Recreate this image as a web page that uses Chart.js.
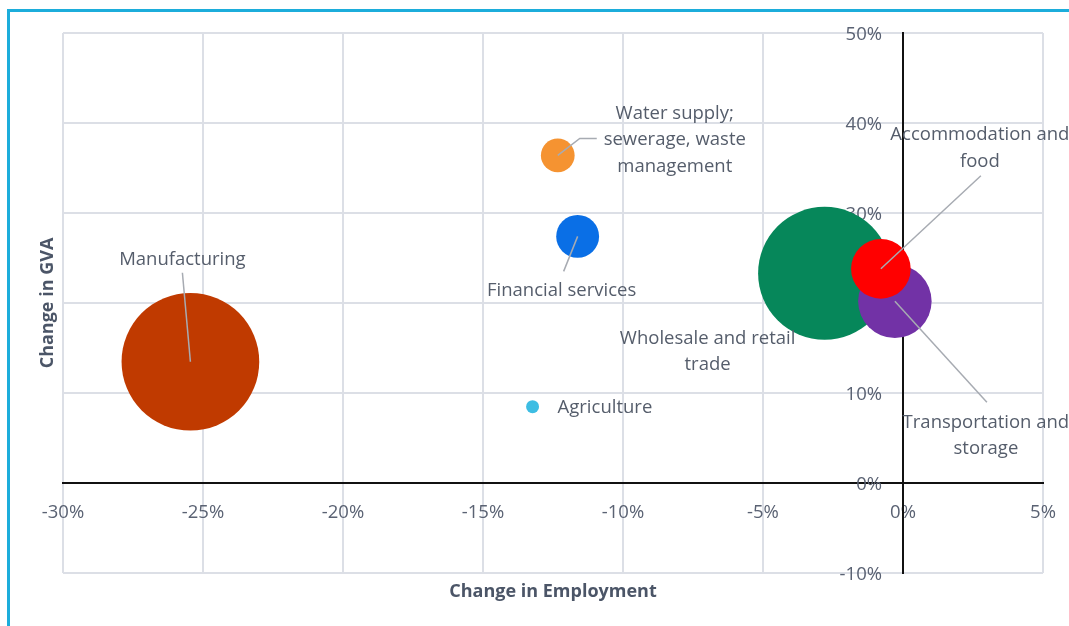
<!DOCTYPE html>
<html><head><meta charset="utf-8">
<script src="https://cdn.jsdelivr.net/npm/chart.js@4.4.0/dist/chart.umd.min.js"></script>
<style>
html,body{margin:0;padding:0;background:#fff;overflow:hidden;}
#wrap{position:relative;width:1069px;height:626px;overflow:hidden;}
#frame{position:absolute;left:7px;top:9px;width:1100px;height:700px;border-left:3px solid #1caddb;border-top:3px solid #1caddb;pointer-events:none;}
canvas{position:absolute;left:0;top:0;}
</style></head><body>
<div id="wrap"><canvas id="c" width="1069" height="626"></canvas><div id="frame"></div></div>
<script>
// ---- data ----
const sectors = ["Manufacturing", "Water supply; sewerage, waste management", "Financial services", "Agriculture", "Wholesale and retail trade", "Transportation and storage", "Accommodation and food"];
const employmentChange = [-25.45, -12.33, -11.62, -13.23, -2.80, -0.29, -0.79];   // % change in employment (x)
const gvaChange        = [13.47, 36.4, 27.4, 8.48, 23.3, 20.2, 23.8];            // % change in GVA (y)
const bubbleSize       = [47.4, 2.85, 4.6, 0.42, 44.2, 13.5, 8.9];               // relative bubble size (area)
const xTicks = [-30, -25, -20, -15, -10, -5, 0, 5];
const yTicks = [-10, 0, 10, 20, 30, 40, 50];

// ---- styles ----
const colors = ["#c03a00", "#f59331", "#0a6fe6", "#3dbde3", "#06875a", "#7232a6", "#ff0000"];
const radiusScale = 10;
const tickColor = "#5a6273";
const titleColor = "#4b5567";
const labelColor = "#555d6b";
const FONT = '"Open Sans", "Noto Sans", sans-serif';

// label placement relative to bubble centre (pixels)
const labelLayout = [
  {lines: ["Manufacturing"], dx: -8, dy: -104, leader: [[-8, -89]]},
  {lines: ["Water supply;", "sewerage, waste", "management"], dx: 117, dy: -17, leader: [[22, -17], [39, -17]]},
  {lines: ["Financial services"], dx: -16, dy: 53, leader: [[-14, 35]]},
  {lines: ["Agriculture"], dx: 25, dy: 0, align: "left"},
  {lines: ["Wholesale and retail", "trade"], dx: -117, dy: 77},
  {lines: ["Transportation and", "storage"], dx: 91, dy: 133, leader: [[92, 101]]},
  {lines: ["Accommodation and", "food"], dx: 99, dy: -122, leader: [[100, -93]]}
];

const points = employmentChange.map((x, i) => ({x: x, y: gvaChange[i], r: Math.sqrt(bubbleSize[i]) * radiusScale}));

// y tick labels next to the crossing axis (drawn under the bubbles)
const yLabelPlugin = {
  id: 'yLabels',
  beforeDatasetsDraw(chart) {
    const ctx = chart.ctx;
    const xs = chart.scales.x, ys = chart.scales.y;
    const ax = xs.getPixelForValue(0);
    ctx.save();
    ctx.font = '18.5px ' + FONT;
    ctx.fillStyle = tickColor;
    ctx.textAlign = 'right';
    ctx.textBaseline = 'middle';
    yTicks.forEach(v => ctx.fillText(v + '%', ax - 21, ys.getPixelForValue(v) + 1.5));
    ctx.restore();
  }
};

const overlayPlugin = {
  id: 'overlay',
  afterDatasetsDraw(chart) {
    const ctx = chart.ctx;
    const meta = chart.getDatasetMeta(0);
    ctx.save();
    meta.data.forEach((el, i) => {
      const L = labelLayout[i];
      const cx = el.x, cy = el.y;
      if (L.leader) {
        ctx.beginPath();
        ctx.moveTo(cx, cy);
        L.leader.forEach(p => ctx.lineTo(cx + p[0], cy + p[1]));
        ctx.strokeStyle = '#a7abb2';
        ctx.lineWidth = 1.5;
        ctx.stroke();
      }
      ctx.font = '18.5px ' + FONT;
      ctx.fillStyle = labelColor;
      ctx.textAlign = L.align || 'center';
      ctx.textBaseline = 'middle';
      const lh = 26.5;
      const y0 = cy + L.dy + 1.5 - (L.lines.length - 1) * lh / 2;
      L.lines.forEach((t, k) => ctx.fillText(t, cx + L.dx, y0 + k * lh));
    });
    const ca = chart.chartArea;
    ctx.font = 'bold 18px ' + FONT;
    ctx.fillStyle = titleColor;
    ctx.textAlign = 'center';
    ctx.textBaseline = 'middle';
    ctx.fillText('Change in Employment', (ca.left + ca.right) / 2, 592);
    ctx.translate(48, (ca.top + ca.bottom) / 2);
    ctx.rotate(-Math.PI / 2);
    ctx.fillText('Change in GVA', 0, 0);
    ctx.restore();
  }
};

new Chart(document.getElementById('c'), {
  type: 'bubble',
  data: {
    labels: sectors,
    datasets: [{
      label: 'Sectors',
      data: points,
      backgroundColor: colors,
      borderWidth: 0,
      hoverBorderWidth: 0
    }]
  },
  options: {
    responsive: false,
    animation: false,
    events: [],
    layout: {autoPadding: false, padding: {left: 63, top: 33, right: 26, bottom: 53}},
    plugins: {legend: {display: false}, tooltip: {enabled: false}},
    scales: {
      x: {
        type: 'linear', min: -30, max: 5,
        position: {y: 0},
        afterBuildTicks: s => { s.ticks = xTicks.map(v => ({value: v})); },
        afterFit: s => { s.height = 0; s.paddingLeft = 0; s.paddingRight = 0; },
        ticks: {callback: v => v + '%', color: tickColor, font: {family: FONT, size: 18.5}, padding: 19, maxRotation: 0, autoSkip: false},
        grid: {color: '#dcdfe6', lineWidth: 2, drawTicks: false},
        border: {color: '#111', width: 2}
      },
      y: {
        type: 'linear', min: -10, max: 50,
        position: {x: 0},
        afterBuildTicks: s => { s.ticks = yTicks.map(v => ({value: v})); },
        afterFit: s => { s.width = 0; s.paddingTop = 0; s.paddingBottom = 0; },
        ticks: {display: false},
        grid: {color: '#dcdfe6', lineWidth: 2, drawTicks: false},
        border: {color: '#111', width: 2}
      }
    }
  },
  plugins: [yLabelPlugin, overlayPlugin]
});
</script>
</body></html>
